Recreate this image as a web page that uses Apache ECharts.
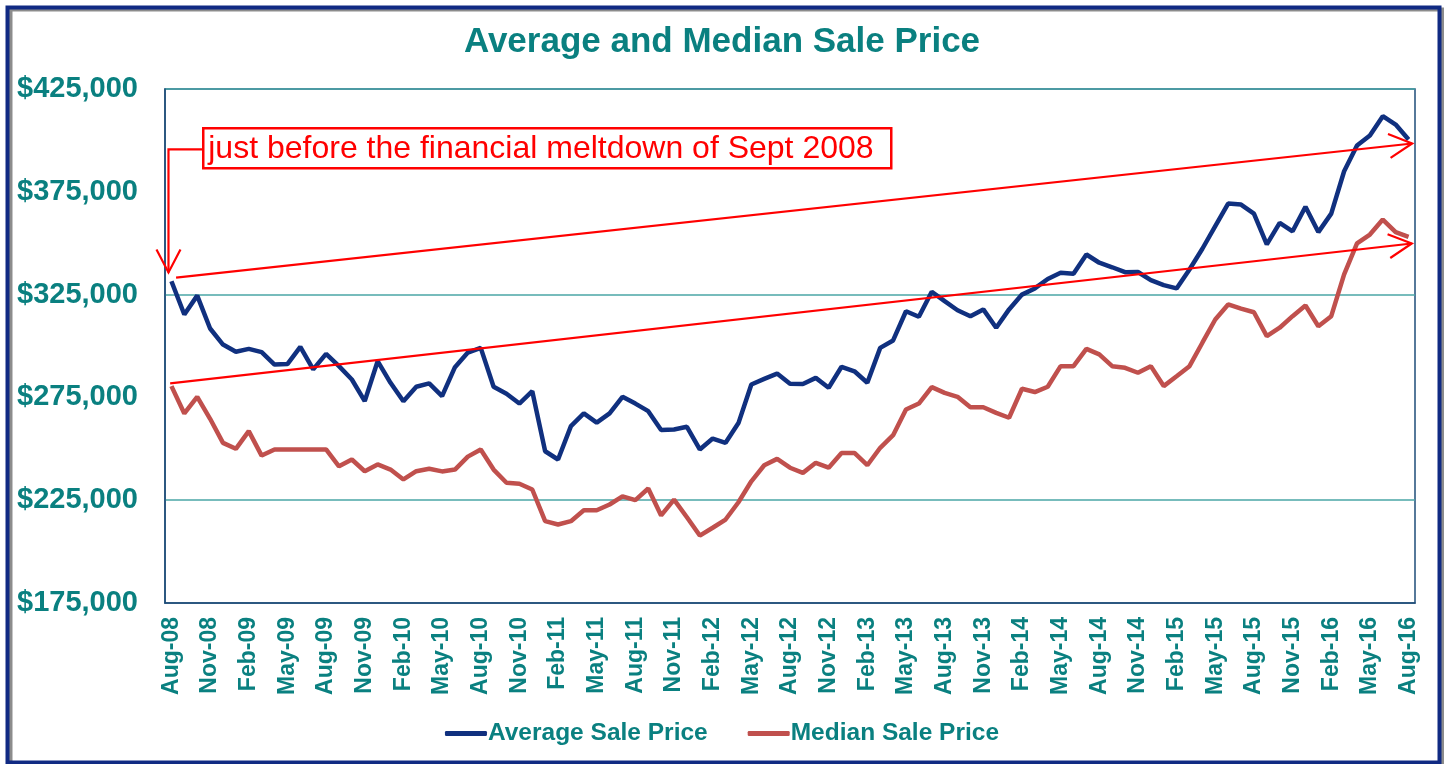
<!DOCTYPE html>
<html>
<head>
<meta charset="utf-8">
<script src="https://cdn.jsdelivr.net/npm/echarts@6/dist/echarts.min.js"></script>
<style>
  html, body { margin: 0; padding: 0; background: #fff; }
  #chart { width: 1444px; height: 764px; }
</style>
</head>
<body>
<div id="chart"></div>
<script>
// month labels, Aug-08 .. Aug-16
const months = [
  'Aug-08', 'Sep-08', 'Oct-08', 'Nov-08', 'Dec-08',
  'Jan-09', 'Feb-09', 'Mar-09', 'Apr-09', 'May-09', 'Jun-09', 'Jul-09', 'Aug-09', 'Sep-09', 'Oct-09', 'Nov-09', 'Dec-09',
  'Jan-10', 'Feb-10', 'Mar-10', 'Apr-10', 'May-10', 'Jun-10', 'Jul-10', 'Aug-10', 'Sep-10', 'Oct-10', 'Nov-10', 'Dec-10',
  'Jan-11', 'Feb-11', 'Mar-11', 'Apr-11', 'May-11', 'Jun-11', 'Jul-11', 'Aug-11', 'Sep-11', 'Oct-11', 'Nov-11', 'Dec-11',
  'Jan-12', 'Feb-12', 'Mar-12', 'Apr-12', 'May-12', 'Jun-12', 'Jul-12', 'Aug-12', 'Sep-12', 'Oct-12', 'Nov-12', 'Dec-12',
  'Jan-13', 'Feb-13', 'Mar-13', 'Apr-13', 'May-13', 'Jun-13', 'Jul-13', 'Aug-13', 'Sep-13', 'Oct-13', 'Nov-13', 'Dec-13',
  'Jan-14', 'Feb-14', 'Mar-14', 'Apr-14', 'May-14', 'Jun-14', 'Jul-14', 'Aug-14', 'Sep-14', 'Oct-14', 'Nov-14', 'Dec-14',
  'Jan-15', 'Feb-15', 'Mar-15', 'Apr-15', 'May-15', 'Jun-15', 'Jul-15', 'Aug-15', 'Sep-15', 'Oct-15', 'Nov-15', 'Dec-15',
  'Jan-16', 'Feb-16', 'Mar-16', 'Apr-16', 'May-16', 'Jun-16', 'Jul-16', 'Aug-16'
];

const averagePrice = [
  331500, 315300, 324500, 308500, 300700,
  297200, 298600, 297000, 291000, 291200, 299600, 288600, 296200, 290200, 283700, 273200, 292600,
  282100, 273100, 280200, 281800, 275600, 289700, 296800, 299100, 280200, 276800, 272000, 278000,
  248800, 244800, 261000, 267200, 262700, 267200, 275300, 272000, 268300, 259100, 259400, 260700,
  249700, 255000, 252900, 262500, 281300, 284000, 286600, 281600, 281500, 284500, 279700, 289900,
  287700, 282100, 299100, 302700, 316900, 314200, 326400, 321800, 317400, 314500, 317800, 308900,
  317800, 325000, 328000, 332600, 335600, 335100, 344500, 340500, 338300, 335900, 336000, 332000,
  329600, 328000, 337200, 347300, 358300, 369300, 368800, 364400, 349400, 359900, 355800, 367700,
  355400, 364400, 385000, 397500, 402400, 411800, 407700, 400400
];

const medianPrice = [
  280500, 267200, 275300, 264600, 252900,
  250000, 258600, 246700, 249700, 249700, 249700, 249700, 249700, 241500, 244800, 239100, 242400,
  239900, 235100, 239100, 240300, 239000, 239900, 246200, 249700, 239900, 233500, 233000, 230200,
  214800, 213200, 214800, 220100, 220100, 222900, 226900, 225000, 230700, 217600, 225300, 216700,
  207800, 211600, 215600, 224000, 234200, 242000, 245100, 240800, 238300, 243200, 240800, 248000,
  248000, 242000, 250500, 256600, 269100, 272000, 280000, 277200, 275300, 270200, 270200, 267500,
  265100, 279200, 277600, 280200, 290200, 290200, 298600, 295900, 290200, 289400, 287000, 290200,
  280500, 285300, 290200, 301600, 312900, 320200, 318200, 316400, 304800, 308900, 314500, 319700,
  309600, 314500, 334800, 349900, 354200, 361500, 355400, 353100
];

// red arrows drawn on top, in [month index, price]
const trendUpper = [[0.36, 333300], [96.28, 398500]];
const trendLower = [[-0.1, 281800], [96.25, 349850]];
const calloutArrow = [[2.37, 395600], [-0.23, 395600], [-0.23, 335800]];
const calloutText = 'just before the financial meltdown of Sept 2008';

const teal = '#0A8080';
const font = "'Liberation Sans', Arial, sans-serif";
const arrows = [trendUpper, trendLower, calloutArrow];

const chart = echarts.init(document.getElementById('chart'));

function renderArrow(params, api) {
  const pts = arrows[params.dataIndex].map(p => api.coord(p));
  const tip = pts[pts.length - 1];
  const prev = pts[pts.length - 2];
  const len = Math.hypot(tip[0] - prev[0], tip[1] - prev[1]);
  const ux = (tip[0] - prev[0]) / len;
  const uy = (tip[1] - prev[1]) / len;
  const L = 23, W = 12;
  const a1 = [tip[0] - ux * L - uy * W, tip[1] - uy * L + ux * W];
  const a2 = [tip[0] - ux * L + uy * W, tip[1] - uy * L - ux * W];
  return {
    type: 'group',
    children: [
      { type: 'polyline', shape: { points: pts }, style: { stroke: '#FF0000', lineWidth: 2.2, fill: 'none' } },
      { type: 'polyline', shape: { points: [a1, tip, a2] }, style: { stroke: '#FF0000', lineWidth: 2.2, fill: 'none' } }
    ]
  };
}

const option = {
  animation: false,
  backgroundColor: '#fff',
  title: {
    text: 'Average and Median Sale Price',
    left: 'center',
    top: 20,
    textStyle: { color: teal, fontSize: 35, fontWeight: 'bold', fontFamily: font }
  },
  legend: {
    data: ['Average Sale Price', 'Median Sale Price'],
    left: 'center',
    top: 716,
    icon: 'roundRect',
    itemWidth: 42,
    itemHeight: 5,
    itemGap: 40,
    textStyle: { color: teal, fontSize: 24.5, fontWeight: 'bold', fontFamily: font, padding: [0, 0, 0, -4] }
  },
  grid: {
    left: 165,
    right: 29,
    top: 89,
    bottom: 161,
    show: true,
    borderColor: '#1F4E79',
    borderWidth: 1.5,
    backgroundColor: '#fff'
  },
  xAxis: [
    {
      type: 'category',
      data: months,
      boundaryGap: true,
      axisLine: { show: true, lineStyle: { color: '#1F4E79', width: 1.5 } },
      axisTick: { show: false },
      axisLabel: {
        interval: 2,
        rotate: 90,
        margin: 14,
        color: teal,
        fontSize: 23,
        fontWeight: 'bold',
        fontFamily: font
      },
      splitLine: { show: false }
    },
    { type: 'value', min: -0.5, max: 96.5, show: false }
  ],
  yAxis: {
    type: 'value',
    min: 175000,
    max: 425000,
    interval: 25000,
    axisLine: { show: true, onZero: false, lineStyle: { color: '#1F4E79', width: 1.5 } },
    axisTick: { show: false },
    axisLabel: {
      margin: 27,
      color: teal,
      fontSize: 29,
      fontWeight: 'bold',
      fontFamily: font,
      formatter: function (v) {
        if ((v - 175000) % 50000 !== 0) return '';
        return '$' + v.toLocaleString('en-US');
      }
    },
    splitLine: {
      show: true,
      lineStyle: { color: ['rgba(0,0,0,0)', 'rgba(0,0,0,0)', '#4AA6A6', 'rgba(0,0,0,0)'], width: 1.5 }
    }
  },
  series: [
    {
      name: 'Average Sale Price',
      type: 'line',
      data: averagePrice,
      symbol: 'none',
      lineStyle: { color: '#10307F', width: 4.5 },
      itemStyle: { color: '#10307F' },
      z: 3
    },
    {
      name: 'Median Sale Price',
      type: 'line',
      data: medianPrice,
      symbol: 'none',
      lineStyle: { color: '#C0504D', width: 4.5 },
      itemStyle: { color: '#C0504D' },
      z: 3
    },
    {
      type: 'custom',
      xAxisIndex: 1,
      yAxisIndex: 0,
      clip: false,
      silent: true,
      z: 5,
      data: [[0, 300000], [1, 300000], [2, 300000]],
      renderItem: renderArrow
    }
  ],
  graphic: [
    {
      type: 'rect',
      left: 5,
      top: 5,
      shape: { width: 1432, height: 755 },
      style: { fill: 'none', stroke: '#102A83', lineWidth: 4, shadowColor: 'rgba(0,0,0,0.45)', shadowOffsetX: 3, shadowOffsetY: 2 },
      z: 10
    },
    {
      type: 'group',
      left: 202,
      top: 127,
      z: 10,
      children: [
        {
          type: 'rect',
          shape: { x: 0, y: 0, width: 688, height: 40 },
          style: { fill: '#fff', stroke: '#FF0000', lineWidth: 2.5 }
        },
        {
          type: 'text',
          x: 5,
          y: 21,
          style: { text: calloutText, fill: '#FF0000', fontSize: 32, fontFamily: font, verticalAlign: 'middle' }
        }
      ]
    }
  ]
};

chart.setOption(option);
</script>
</body>
</html>
